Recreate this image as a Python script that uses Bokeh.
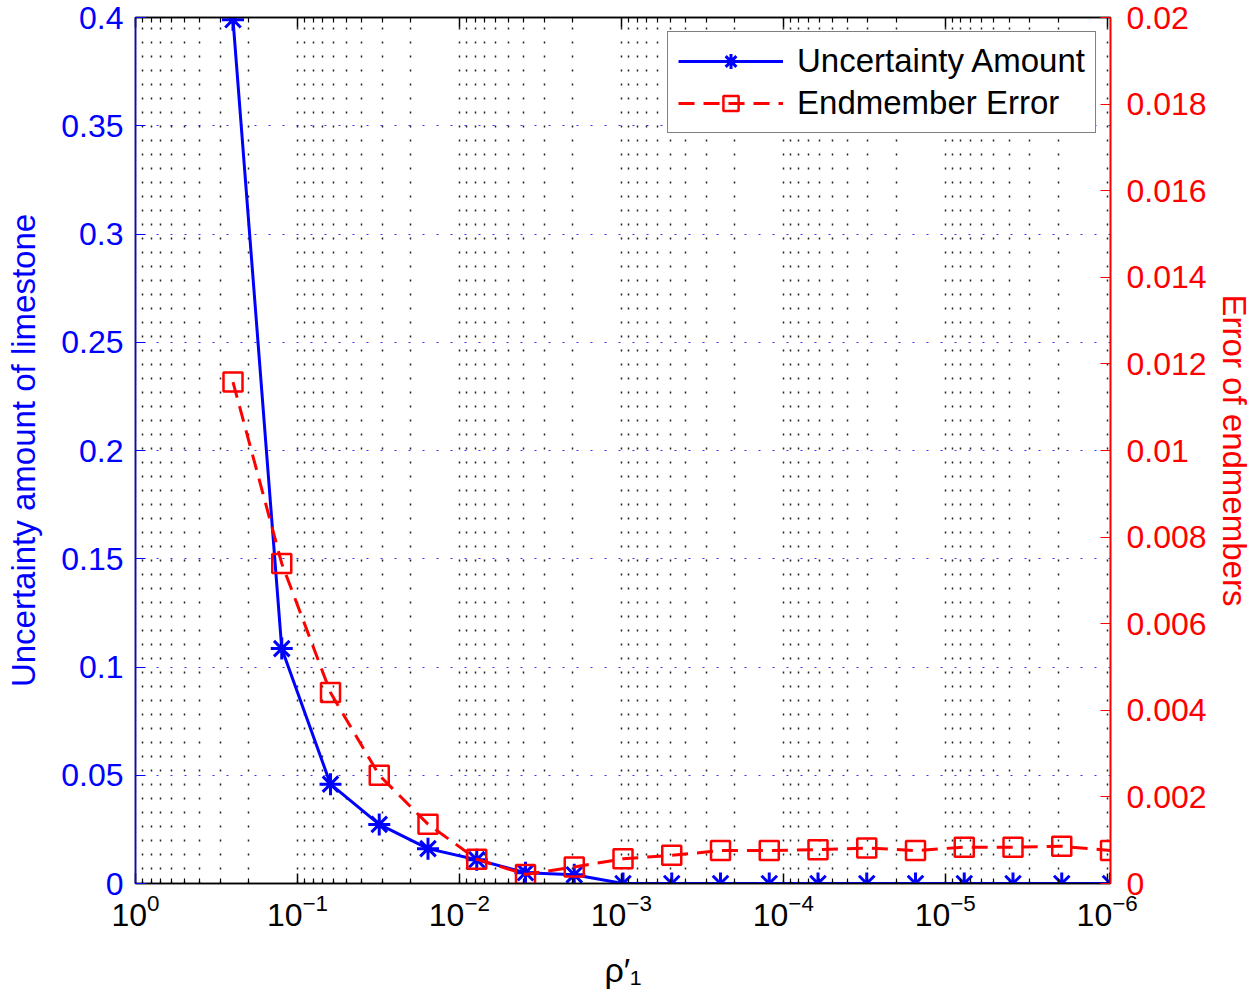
from bokeh.plotting import figure
from bokeh.models import (Range1d, LinearAxis, LogAxis, Legend, LegendItem,
                          FixedTicker, CustomJSTickFormatter)
from bokeh.embed import file_html
from bokeh.resources import INLINE

# ---- data ----
rho = [0.25, 0.125, 0.0625, 0.03125, 0.015625, 0.0078125, 0.00390625,
       0.001953125, 0.0009765625, 0.00048828125, 0.000244140625,
       0.0001220703125, 6.103515625e-05, 3.0517578125e-05,
       1.52587890625e-05, 7.62939453125e-06, 3.814697265625e-06,
       1.9073486328125e-06, 9.5367431640625e-07]
uncertainty = [0.399, 0.1085, 0.0459, 0.0273, 0.0161, 0.0110, 0.0050, 0.0040,
               0.0, 0.0, 0.0, 0.0, 0.0, 0.0, 0.0, 0.0, 0.0, 0.0, 0.0]
endmember_err = [0.01158, 0.00739, 0.00441, 0.00250, 0.00137, 0.00056, 0.00021,
                 0.00038, 0.00057, 0.00065, 0.00076, 0.00076, 0.00078, 0.00082,
                 0.00076, 0.00084, 0.00084, 0.00086, 0.00076]
x_major_ticks = [1, 0.1, 0.01, 0.001, 0.0001, 1e-05, 1e-06]
x_minor_mult = [2, 3, 4, 5, 6, 7, 8, 9]
left_ticks = [0, 0.05, 0.1, 0.15, 0.2, 0.25, 0.3, 0.35, 0.4]
right_ticks = [0, 0.002, 0.004, 0.006, 0.008, 0.01, 0.012, 0.014, 0.016, 0.018, 0.02]

FONT = "Liberation Sans"
FS = "32px"
BLUE = "#0000ff"
RED = "#ff0000"

x_minor_ticks = [d * m / 10 for d in x_major_ticks for m in x_minor_mult] + \
                [m * 1e-07 for m in x_minor_mult]
xticker = FixedTicker(ticks=x_major_ticks, minor_ticks=x_minor_ticks)
num_fmt = CustomJSTickFormatter(code="return tick === 0 ? '0' : String(parseFloat(tick.toFixed(6)));")
blank_fmt = CustomJSTickFormatter(code="return '';")

p = figure(width=1257, height=997, x_axis_type="log",
           x_range=Range1d(1, rho[-1]), y_range=Range1d(0, 0.4),
           output_backend="svg", toolbar_location=None,
           min_border_left=135, min_border_right=147,
           min_border_top=17, min_border_bottom=114)
p.extra_y_ranges = {"err": Range1d(0, 0.02)}
p.outline_line_color = "black"
p.outline_line_width = 1.5
p.background_fill_color = "white"
p.border_fill_color = "white"

# bottom axis
xa = p.xaxis[0]
xa.ticker = xticker
xa.axis_label = "ρ′₁"
xa.axis_label_text_font = FONT
xa.axis_label_text_font_size = "34px"
xa.axis_label_text_font_style = "normal"
xa.axis_label_text_color = "black"
xa.axis_label_standoff = 22
xa.major_label_text_font = FONT
xa.major_label_text_font_size = FS
xa.major_label_text_color = "black"
xa.major_label_standoff = 10
xa.axis_line_color = "black"
xa.axis_line_width = 1.5
xa.major_tick_in = 10
xa.major_tick_out = 0
xa.minor_tick_in = 5
xa.minor_tick_out = 0
xa.major_tick_line_width = 1.5
xa.minor_tick_line_width = 1.2

# top axis (ticks only)
ta = LogAxis(ticker=xticker, formatter=blank_fmt, major_label_text_font_size="0px",
             major_label_standoff=0, major_tick_in=10, major_tick_out=0,
             minor_tick_in=5, minor_tick_out=0, axis_line_color="black",
             axis_line_width=1.5, major_tick_line_width=1.5, minor_tick_line_width=1.2)
p.add_layout(ta, "above")

# left axis
ya = p.yaxis[0]
ya.ticker = FixedTicker(ticks=left_ticks)
ya.formatter = num_fmt
ya.axis_label = "Uncertainty amount of limestone"
ya.axis_label_text_font = FONT
ya.axis_label_text_font_size = "33px"
ya.axis_label_text_font_style = "normal"
ya.axis_label_text_color = BLUE
ya.axis_label_standoff = 16
ya.major_label_text_font = FONT
ya.major_label_text_font_size = FS
ya.major_label_text_color = BLUE
ya.major_label_standoff = 12
ya.axis_line_color = BLUE
ya.axis_line_width = 1.5
ya.major_tick_line_color = BLUE
ya.major_tick_in = 10
ya.major_tick_out = 0
ya.minor_tick_line_color = None

# right axis (red)
ra = LinearAxis(y_range_name="err", ticker=FixedTicker(ticks=right_ticks),
                formatter=num_fmt, axis_label="Error of endmembers")
ra.axis_label_text_font = FONT
ra.axis_label_text_font_size = "33px"
ra.axis_label_text_font_style = "normal"
ra.axis_label_text_color = RED
ra.axis_label_standoff = 6
ra.major_label_text_font = FONT
ra.major_label_text_font_size = FS
ra.major_label_text_color = RED
ra.major_label_standoff = 16
ra.axis_line_color = RED
ra.axis_line_width = 1.5
ra.major_tick_line_color = RED
ra.major_tick_in = 10
ra.major_tick_out = 0
ra.minor_tick_line_color = None
p.add_layout(ra, "right")

# grids
p.xgrid.grid_line_color = "#222222"
p.xgrid.grid_line_dash = "2 12"
p.xgrid.grid_line_width = 1.5
p.xgrid.minor_grid_line_color = "#222222"
p.xgrid.minor_grid_line_dash = "2 12"
p.xgrid.minor_grid_line_width = 1.5
p.ygrid.grid_line_color = BLUE
p.ygrid.grid_line_alpha = 0.8
p.ygrid.grid_line_dash = "2 12"
p.ygrid.grid_line_width = 1.2

# data
bl = p.line(rho, uncertainty, line_color=BLUE, line_width=3)
bs = p.scatter(rho, uncertainty, marker="asterisk", size=22, line_color=BLUE, line_width=3)
rl = p.line(rho, endmember_err, line_color=RED, line_width=3, line_dash="16 9",
            y_range_name="err")
rs = p.scatter(rho, endmember_err, marker="square", size=19, line_color=RED, line_width=2.5,
               fill_color=None, y_range_name="err")

legend = Legend(items=[LegendItem(label="Uncertainty Amount", renderers=[bl, bs]),
                       LegendItem(label="Endmember Error", renderers=[rl, rs])],
                location="top_right")
legend.label_text_font = FONT
legend.label_text_font_size = "33px"
legend.label_text_color = "black"
legend.glyph_width = 105
legend.glyph_height = 38
legend.label_height = 38
legend.label_standoff = 14
legend.spacing = 4
legend.padding = 10
legend.margin = 14
legend.border_line_color = "black"
legend.border_line_width = 1.5
legend.background_fill_alpha = 1.0
p.add_layout(legend)

open("out.html", "w").write(file_html(p, INLINE))
